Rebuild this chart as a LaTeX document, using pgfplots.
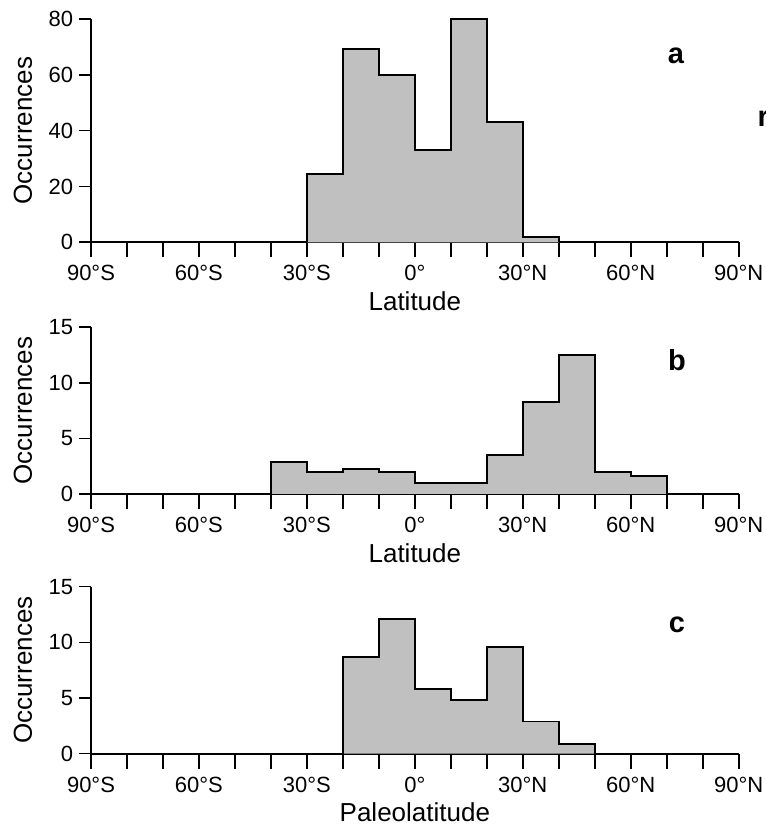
\documentclass[border=0pt]{standalone}
\usepackage{fontspec}
\setmainfont{Liberation Sans}
\usepackage{pgfplots}
\pgfplotsset{compat=1.18}
\definecolor{histfill}{RGB}{192,192,192}
\pgfplotsset{
  panel/.style={
    scale only axis, width=647.7pt,
    xmin=-90, xmax=90, ymin=0,
    axis x line=bottom, axis y line=left,
    axis line style={-, line width=1.8pt},
    enlargelimits=false,
    tick align=outside,
    major tick length=12pt, minor tick length=15pt,
    every tick/.style={black, line width=1.6pt},
    xtick={-90,-60,...,90},
    minor xtick={-80,-70,-50,-40,-20,-10,10,20,40,50,70,80},
    xticklabels={90°S,60°S,30°S,0°,30°N,60°N,90°N},
    x tick style={/pgfplots/major tick length=15pt},
    /pgf/number format/assume math mode=true,
    ticklabel style={font=\fontsize{22}{25}\selectfont, inner sep=0pt},
    xticklabel style={yshift=-11pt},
    yticklabel style={xshift=-5.7pt},
    label style={font=\fontsize{26}{30}\selectfont, inner sep=0pt},
    xlabel style={at={(axis description cs:0.5,0)}, anchor=center, yshift=-59pt},
    ylabel style={at={(axis description cs:-0.105,0.5)}, anchor=center},
    ylabel={Occurrences},
    clip=false,
  },
  hist/.style={const plot, fill=histfill, draw=black, line width=1.7pt, line join=miter},
}
\begin{document}
\begin{tikzpicture}
\path[use as bounding box] (0,0) rectangle (765pt,826pt);
% panel a
\begin{axis}[panel, at={(91pt,583.7pt)}, anchor=south west, height=223.3pt,
  ymax=80, ytick={0,20,40,60,80}, xlabel={Latitude}]
\addplot[hist] coordinates {(-30,0) (-30,24.5) (-20,69.3) (-10,60) (0,33) (10,80) (20,43.2) (30,2) (40,2) (40,0)};
\end{axis}
% panel b
\begin{axis}[panel, at={(91pt,332pt)}, anchor=south west, height=166.7pt,
  ymax=15, ytick={0,5,10,15}, xlabel={Latitude}]
\addplot[hist] coordinates {(-40,0) (-40,2.9) (-30,2) (-20,2.25) (-10,2) (0,1) (10,1) (20,3.5) (30,8.3) (40,12.5) (50,2) (60,1.65) (70,1.65) (70,0)};
\end{axis}
% panel c
\begin{axis}[panel, at={(91pt,72.3pt)}, anchor=south west, height=167pt,
  ymax=15, ytick={0,5,10,15}, xlabel={Paleolatitude}]
\addplot[hist] coordinates {(-20,0) (-20,8.7) (-10,12.1) (0,5.8) (10,4.8) (20,9.6) (30,2.9) (40,0.9) (50,0.9) (50,0)};
\end{axis}
\node[anchor=base, inner sep=0pt, font=\fontsize{29}{32}\selectfont\bfseries] at (676pt,762.5pt) {a};
\node[anchor=base, inner sep=0pt, font=\fontsize{29}{32}\selectfont\bfseries] at (677pt,455.3pt) {b};
\node[anchor=base, inner sep=0pt, font=\fontsize{29}{32}\selectfont\bfseries] at (677pt,193.3pt) {c};
\node[overlay, anchor=base west, inner sep=0pt, font=\fontsize{29}{32}\selectfont\bfseries] at (757.5pt,699.3pt) {r};
\end{tikzpicture}
\end{document}
